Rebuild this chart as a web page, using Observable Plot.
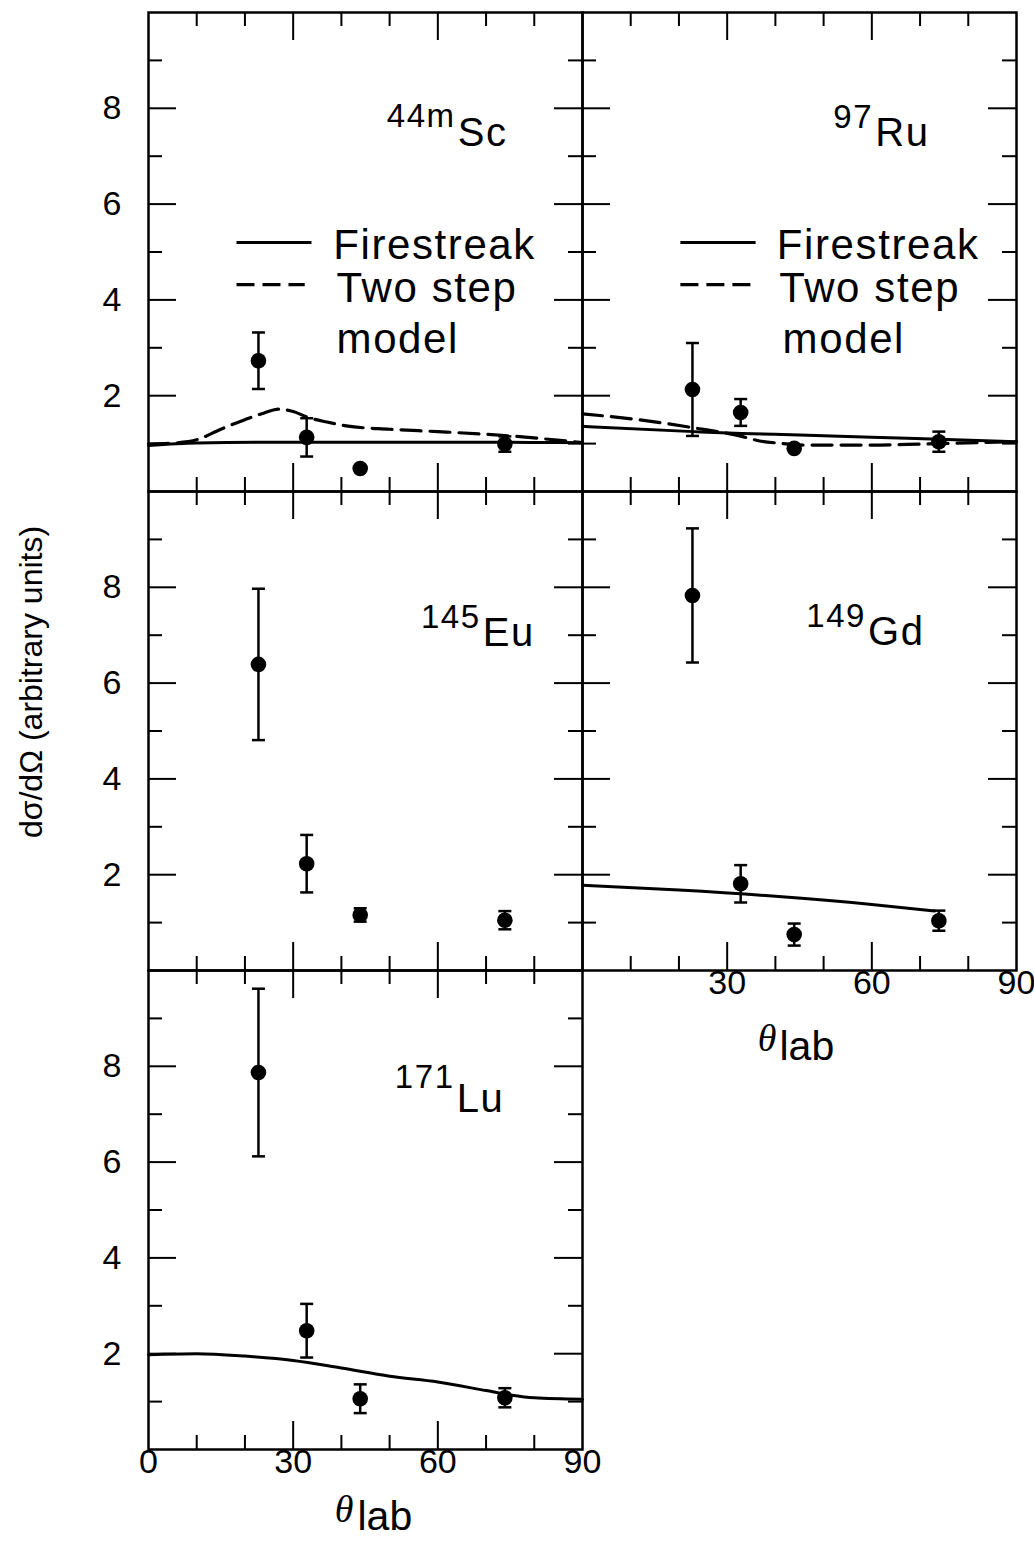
<!DOCTYPE html>
<html><head><meta charset="utf-8">
<script src="https://cdn.jsdelivr.net/npm/d3@7"></script>
<script src="https://cdn.jsdelivr.net/npm/@observablehq/plot@0.6"></script>
<style>
html,body{margin:0;padding:0;background:#fff;}
</style></head><body><div id="chart"></div>
<script>
// ---------- data ----------
const nuclides = ["Sc", "Ru", "Eu", "Gd", "Lu"];
const massNumbers = ["44m", "97", "145", "149", "171"];
const thetaMeas = [22.8, 32.8, 43.9, 73.9];

const yieldSc = [2.73, 1.13, 0.48, 0.99];
const errSc   = [0.59, 0.40, 0.00, 0.16];
const yieldRu = [2.13, 1.65, 0.90, 1.04];
const errRu   = [0.97, 0.28, 0.00, 0.21];
const yieldEu = [6.39, 2.23, 1.16, 1.05];
const errEu   = [1.58, 0.60, 0.14, 0.19];
const yieldGd = [7.83, 1.81, 0.75, 1.04];
const errGd   = [1.40, 0.39, 0.23, 0.21];
const yieldLu = [7.87, 2.48, 1.06, 1.08];
const errLu   = [1.75, 0.56, 0.30, 0.20];

// model curves [theta, value]
const fireSc = [[0,0.96],[10,1.01],[30,1.03],[60,1.03],[90,1.02]];
const fireRu = [[0,1.36],[23,1.25],[33,1.21],[45,1.18],[60,1.13],[74,1.09],[90,1.04]];
const fireGd = [[0,1.78],[20,1.68],[40,1.55],[60,1.38],[73,1.24]];
const fireLu = [[0,1.98],[10,2.0],[20,1.95],[30,1.86],[40,1.7],[50,1.53],[60,1.41],[70,1.23],[75,1.14],[80,1.08],[90,1.05]];
const twoSc = [[0,0.99],[5,1.01],[10,1.08],[15,1.3],[20,1.5],[24,1.64],[27,1.72],[30,1.67],[33,1.55],[37,1.45],[41,1.37],[50,1.3],[60,1.25],[75,1.16],[90,1.02]];
const twoRu = [[0,1.62],[11.5,1.5],[23,1.33],[33,1.15],[36.5,1.06],[40.5,1.01],[46,0.97],[60,0.97],[70,0.99],[90,1.04]];

const legendLabels = ["Firestreak", "Two step", "model"];
const yTickLabels = [2, 4, 6, 8];
const xTicksBottomLeft = [0, 30, 60, 90];
const xTicksMidRight = [30, 60, 90];
const xMajor = [30, 60];
const xMinor = [10, 20, 40, 50, 70, 80];
const yMajor = [2, 4, 6, 8];
const yMinor = [1, 3, 5, 7, 9];

// ---------- layout ----------
const panelCol = ["L", "R", "L", "R", "L"];
const panelRow = ["r1", "r1", "r2", "r2", "r3"];
const labelJoinTheta = [63.7, 60.3, 68.9, 58.8, 63.5];
const labelMainY = [7.48, 7.48, 7.04, 7.06, 7.32];
const labelSupY = [7.84, 7.80, 7.38, 7.40, 7.76];
const legendTextX = {L: [38.3, 39.0, 39.0], R: [40.3, 40.8, 41.5]};
const legendTextY = [5.14, 4.23, 3.18];
const legendLineX = {L: [[18.35, 33.9], [18.35, 32.5]], R: [[20.4, 36.0], [20.4, 35.7]]};
const legendLineY = [5.2, 4.32];

const W = 1034, H = 1552, mT = 12, mL = 148, mR = 18, mB = 103;
const colW = (W - mL - mR) / 2, rowH = (H - mT - mB) / 3;
const majLen = 28, minLen = 14;
const FS_LEGEND = 42, FS_NUC = 40, FS_MASS = 33, FS_TICK = 34;

// ---------- build tables ----------
const series = [yieldSc, yieldRu, yieldEu, yieldGd, yieldLu];
const errs = [errSc, errRu, errEu, errGd, errLu];
const points = [];
series.forEach((vals, i) => vals.forEach((v, j) => points.push({
  col: panelCol[i], row: panelRow[i], theta: thetaMeas[j], v,
  lo: v - errs[i][j], hi: v + errs[i][j], e: errs[i][j]
})));
const bars = points.filter(d => d.e > 0);

function curveRows(arr, i) { return arr.map(([t, v]) => ({col: panelCol[i], row: panelRow[i], panel: i, theta: t, v})); }
const fireRows = [...curveRows(fireSc, 0), ...curveRows(fireRu, 1), ...curveRows(fireGd, 3), ...curveRows(fireLu, 4)];
const twoRows = [...curveRows(twoSc, 0), ...curveRows(twoRu, 1)];

const labelRows = nuclides.map((n, i) => ({col: panelCol[i], row: panelRow[i], n, m: massNumbers[i], x: labelJoinTheta[i], ym: labelMainY[i], ys: labelSupY[i]}));

const legendText = [];
const legendSolid = [], legendDashed = [];
["L", "R"].forEach(c => {
  legendLabels.forEach((t, k) => legendText.push({col: c, row: "r1", t, x: legendTextX[c][k], y: legendTextY[k]}));
  legendSolid.push({col: c, row: "r1", x1: legendLineX[c][0][0], x2: legendLineX[c][0][1], y: legendLineY[0]});
  legendDashed.push({col: c, row: "r1", x1: legendLineX[c][1][0], x2: legendLineX[c][1][1], y: legendLineY[1]});
});

const xTickRows = [
  ...xTicksBottomLeft.map(x => ({col: "L", row: "r3", x})),
  ...xTicksMidRight.map(x => ({col: "R", row: "r2", x}))
];

const capSymbol = {draw(ctx, size) { const r = Math.sqrt(size / Math.PI); ctx.moveTo(-r, 0); ctx.lineTo(r, 0); }};
const F = {fx: "col", fy: "row"};
const tickStyle = {stroke: "black", strokeWidth: 2};

const chart = Plot.plot({
  width: W, height: H,
  marginTop: mT, marginLeft: mL, marginRight: mR, marginBottom: mB,
  x: {domain: [0, 90], axis: null},
  y: {domain: [0, 10], axis: null},
  fx: {domain: ["L", "R"], padding: 0, axis: null},
  fy: {domain: ["r1", "r2", "r3"], padding: 0, axis: null},
  style: {fontFamily: "'Liberation Sans', Arial, sans-serif", background: "white", color: "black"},
  marks: [
    Plot.frame({stroke: "black", strokeWidth: 2.5}),
    // inward ticks on all four sides
    Plot.tickY(yMajor, {y: d => d, insetRight: colW - majLen, ...tickStyle}),
    Plot.tickY(yMinor, {y: d => d, insetRight: colW - minLen, ...tickStyle}),
    Plot.tickY(yMajor, {y: d => d, insetLeft: colW - majLen, ...tickStyle}),
    Plot.tickY(yMinor, {y: d => d, insetLeft: colW - minLen, ...tickStyle}),
    Plot.tickX(xMajor, {x: d => d, insetTop: rowH - majLen, ...tickStyle}),
    Plot.tickX(xMinor, {x: d => d, insetTop: rowH - minLen, ...tickStyle}),
    Plot.tickX(xMajor, {x: d => d, insetBottom: rowH - majLen, ...tickStyle}),
    Plot.tickX(xMinor, {x: d => d, insetBottom: rowH - minLen, ...tickStyle}),
    // axes labels
    Plot.axisY({anchor: "left", ticks: yTickLabels, tickSize: 0, tickPadding: 27, fontSize: FS_TICK, label: null}),
    Plot.text(xTickRows, {...F, x: "x", text: d => String(d.x), frameAnchor: "bottom", dy: 23, fontSize: FS_TICK}),
    Plot.text([{col: "L", row: "r2"}], {...F, frameAnchor: "left", text: () => "dσ/dΩ (arbitrary units)", textAnchor: "middle", rotate: -90, dx: -117, dy: -49, fontSize: 32}),
    Plot.text([{col: "L", row: "r3"}], {...F, frameAnchor: "bottom", text: () => "θ", textAnchor: "end", dx: -12, dy: 72, fontSize: 38, fontStyle: "italic", fontFamily: "'Liberation Serif', serif"}),
    Plot.text([{col: "L", row: "r3"}], {...F, frameAnchor: "bottom", text: () => "lab", textAnchor: "start", dx: -8, dy: 80, fontSize: 41}),
    Plot.text([{col: "R", row: "r2"}], {...F, frameAnchor: "bottom", text: () => "θ", textAnchor: "end", dx: -23, dy: 80, fontSize: 38, fontStyle: "italic", fontFamily: "'Liberation Serif', serif"}),
    Plot.text([{col: "R", row: "r2"}], {...F, frameAnchor: "bottom", text: () => "lab", textAnchor: "start", dx: -20, dy: 89, fontSize: 41}),
    // model curves
    Plot.line(fireRows, {...F, x: "theta", y: "v", z: "panel", curve: "monotone-x", stroke: "black", strokeWidth: 3}),
    Plot.line(twoRows, {...F, x: "theta", y: "v", z: "panel", curve: "monotone-x", stroke: "black", strokeWidth: 3.2, strokeDasharray: "20,9"}),
    // data with error bars
    Plot.ruleX(bars, {...F, x: "theta", y1: "lo", y2: "hi", stroke: "black", strokeWidth: 2.5}),
    Plot.dot(bars, {...F, x: "theta", y: "hi", symbol: capSymbol, r: 6.5, stroke: "black", strokeWidth: 2.5, fill: "none"}),
    Plot.dot(bars, {...F, x: "theta", y: "lo", symbol: capSymbol, r: 6.5, stroke: "black", strokeWidth: 2.5, fill: "none"}),
    Plot.dot(points, {...F, x: "theta", y: "v", r: 7.8, fill: "black", stroke: "none"}),
    // panel labels
    Plot.text(labelRows, {...F, x: "x", y: "ys", text: "m", textAnchor: "end", fontSize: FS_MASS}),
    Plot.text(labelRows, {...F, x: "x", y: "ym", text: "n", textAnchor: "start", dx: 2, fontSize: FS_NUC}),
    // legend
    Plot.ruleY(legendSolid, {...F, y: "y", x1: "x1", x2: "x2", stroke: "black", strokeWidth: 3}),
    Plot.ruleY(legendDashed, {...F, y: "y", x1: "x1", x2: "x2", stroke: "black", strokeWidth: 3.2, strokeDasharray: "18,8"}),
    Plot.text(legendText, {...F, x: "x", y: "y", text: "t", textAnchor: "start", fontSize: FS_LEGEND})
  ]
});
// slightly wider letter spacing, as in the original lettering
chart.querySelectorAll("g[font-size], text[font-size]").forEach(el => {
  const fs = +el.getAttribute("font-size");
  if (fs === FS_LEGEND || fs === FS_NUC || fs === FS_MASS) el.style.letterSpacing = "1.6px";
});
document.getElementById("chart").appendChild(chart);
</script></body></html>
